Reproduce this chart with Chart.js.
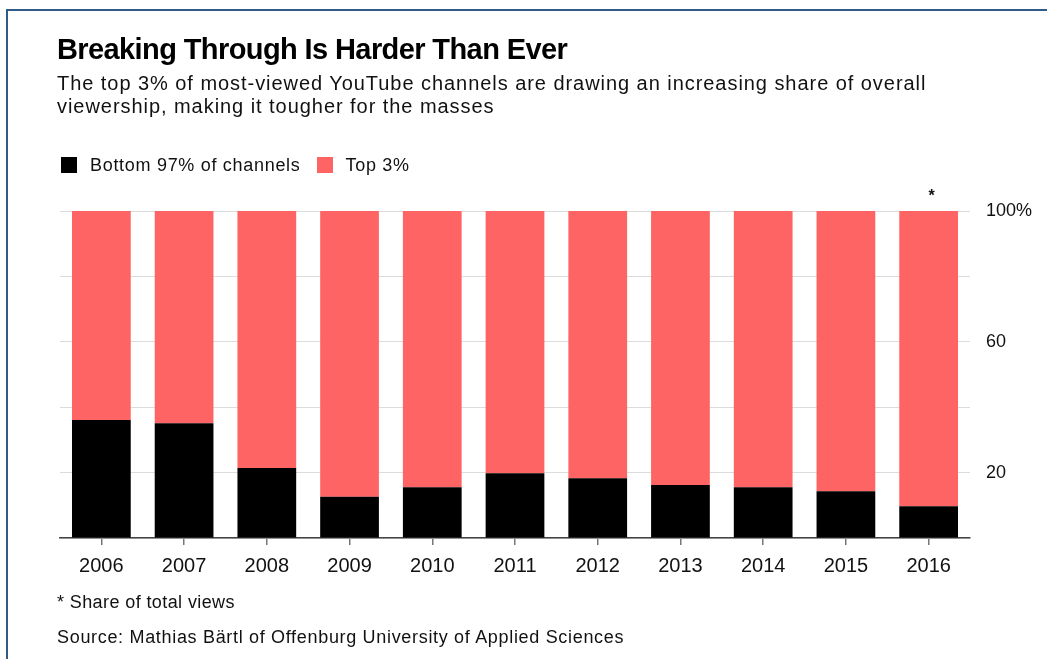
<!DOCTYPE html>
<html>
<head>
<meta charset="utf-8">
<script src="https://cdn.jsdelivr.net/npm/chart.js@4"></script>
<style>
  html, body { margin: 0; padding: 0; background: #fff; }
  body { width: 1047px; height: 659px; position: relative; overflow: hidden; font-family: "Liberation Sans", Arial, sans-serif; color: #111; }
  #frame { position: absolute; left: 6px; top: 9px; width: 1100px; height: 700px; border-left: 2px solid #2f5b88; border-top: 2px solid #2f5b88; }
  #chart { position: absolute; left: 0; top: 0; }
  .txt { position: absolute; left: 57px; white-space: nowrap; }
  #title { top: 33px; font-size: 29px; line-height: 32px; font-weight: bold; letter-spacing: -0.6px; color: #000; }
  #subtitle { top: 72px; font-size: 20px; line-height: 23px; letter-spacing: 0.95px; }
  #legend { top: 155px; left: 61px; font-size: 18px; line-height: 20px; letter-spacing: 0.7px; display: flex; align-items: center; }
  .sw { width: 16px; height: 16px; display: inline-block; margin-right: 13px; }
  #note { top: 592px; font-size: 18px; line-height: 20px; letter-spacing: 0.4px; }
  #source { top: 627px; font-size: 18px; line-height: 20px; letter-spacing: 0.68px; }
</style>
</head>
<body>
<div id="frame"></div>
<canvas id="chart" width="1047" height="659"></canvas>
<div class="txt" id="title">Breaking Through Is Harder Than Ever</div>
<div class="txt" id="subtitle">The top 3% of most-viewed YouTube channels are drawing an increasing share of overall<br>viewership, making it tougher for the masses</div>
<div class="txt" id="legend"><span class="sw" style="background:#000"></span><span style="margin-right:16px">Bottom 97% of channels</span><span class="sw" style="background:#ff6464"></span><span>Top 3%</span></div>
<div class="txt" id="note">* Share of total views</div>
<div class="txt" id="source">Source: Mathias Bärtl of Offenburg University of Applied Sciences</div>
<script>
// data (share of total views, %)
const years = ['2006', '2007', '2008', '2009', '2010', '2011', '2012', '2013', '2014', '2015', '2016'];
const bottomShare = [36.1, 35.1, 21.4, 12.6, 15.5, 19.8, 18.3, 16.2, 15.5, 14.3, 9.7];
const topShare = [63.9, 64.9, 78.6, 87.4, 84.5, 80.2, 81.7, 83.8, 84.5, 85.7, 90.3];
const yLabels = { 20: '20', 60: '60', 100: '100%' };

// asterisk above the last bar
const starPlugin = {
    id: 'star',
    afterDraw(chart) {
        const ctx = chart.ctx;
        const x = chart.scales.x.getPixelForValue(years.length - 1);
        const y = chart.scales.y.getPixelForValue(100);
        ctx.save();
        ctx.fillStyle = '#111';
        ctx.font = 'bold 16px "Liberation Sans", Arial, sans-serif';
        ctx.textAlign = 'center';
        ctx.textBaseline = 'middle';
        ctx.fillText('*', x + 3, y - 14);
        ctx.restore();
    }
};

new Chart(document.getElementById('chart').getContext('2d'), {
    type: 'bar',
    data: {
        labels: years,
        datasets: [
            { label: 'Bottom 97% of channels', data: bottomShare, backgroundColor: '#000000', barPercentage: 0.71, categoryPercentage: 1 },
            { label: 'Top 3%', data: topShare, backgroundColor: '#ff6464', barPercentage: 0.71, categoryPercentage: 1 }
        ]
    },
    options: {
        responsive: false,
        animation: false,
        layout: { padding: { left: 60, top: 211, right: 0, bottom: 81 } },
        plugins: { legend: { display: false }, tooltip: { enabled: false } },
        scales: {
            x: {
                stacked: true,
                grid: { display: true, drawOnChartArea: false, drawTicks: true, tickLength: 7, offset: false, color: '#777', lineWidth: 1.5 },
                border: { display: true, color: '#444', width: 1.5 },
                ticks: { color: '#111', font: { size: 20, family: '"Liberation Sans", Arial, sans-serif' }, padding: 9, maxRotation: 0 },
                afterFit: scale => { scale.height = 40; }
            },
            y: {
                stacked: true,
                position: 'right',
                min: 0,
                max: 100,
                grid: { color: '#dcdcdc', lineWidth: 1, drawTicks: false },
                border: { display: false },
                ticks: {
                    stepSize: 20,
                    padding: 16,
                    color: '#111',
                    font: { size: 18, family: '"Liberation Sans", Arial, sans-serif' },
                    callback: value => yLabels[value] || ''
                },
                afterFit: scale => { scale.width = 77; }
            }
        }
    },
    plugins: [starPlugin]
});
</script>
</body>
</html>
